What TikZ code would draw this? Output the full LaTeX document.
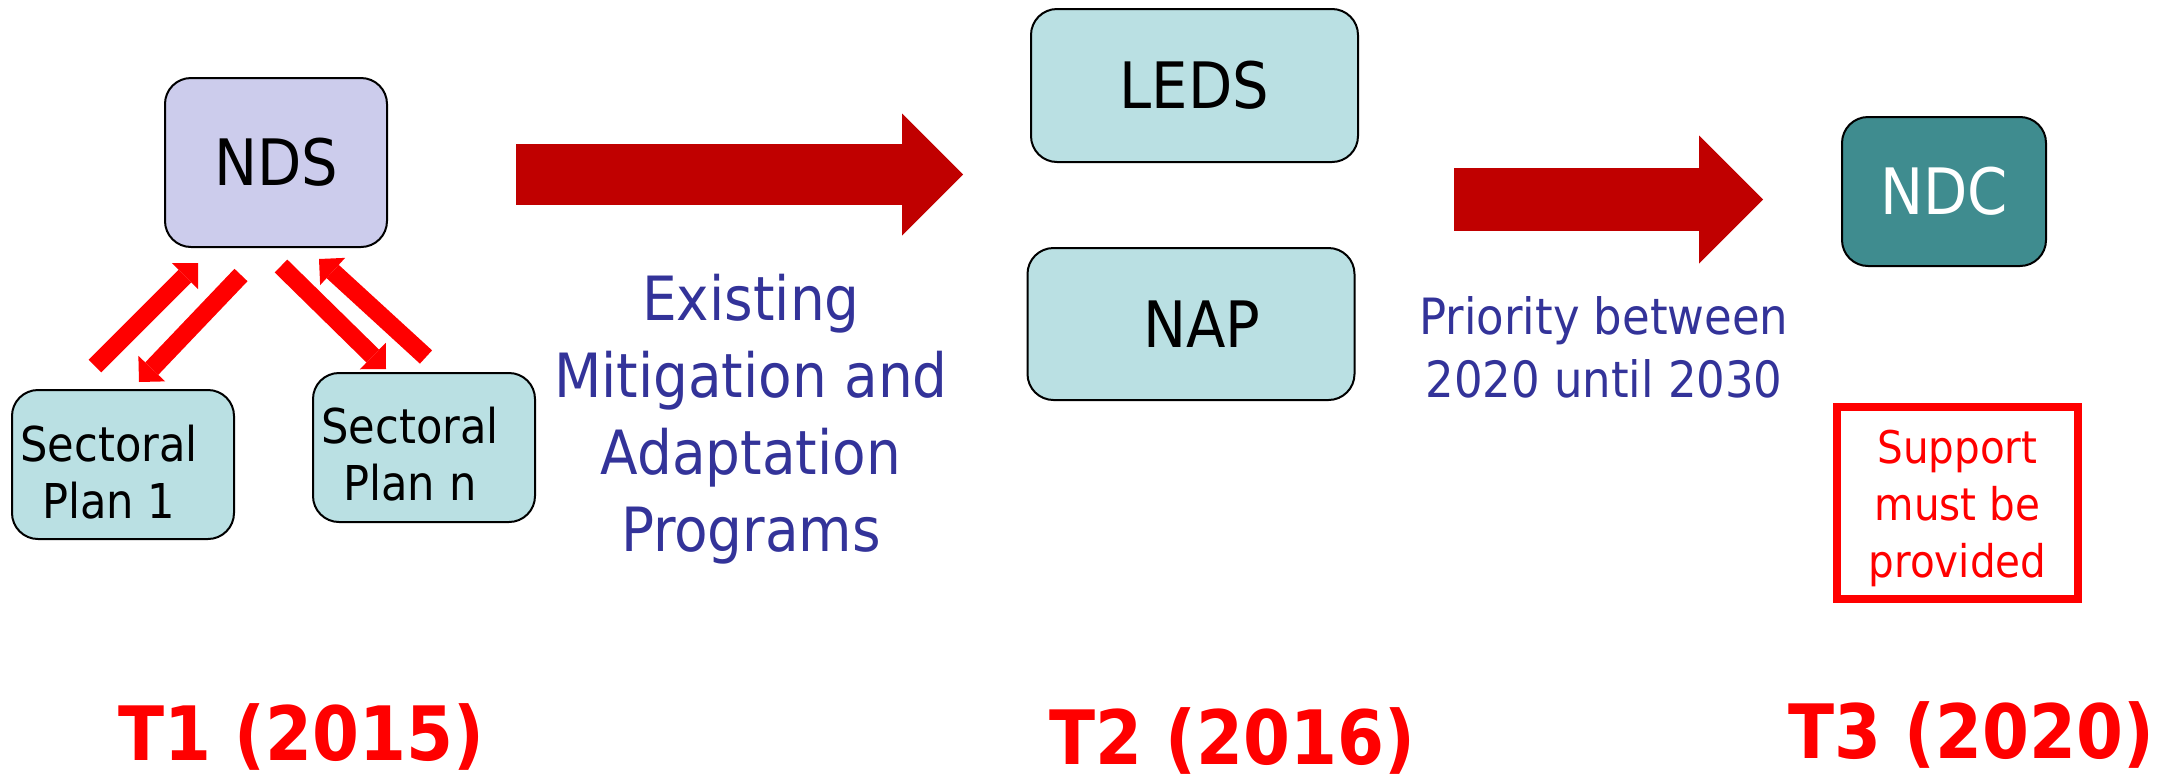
\documentclass[tikz,border=0pt]{standalone}
\usepackage{fontspec}
\setmainfont{DejaVu Sans Condensed}[BoldFont={DejaVu Sans Condensed Bold}]
\usetikzlibrary{arrows.meta}
\definecolor{lav}{RGB}{204,204,236}
\definecolor{lteal}{RGB}{186,224,227}
\definecolor{dteal}{RGB}{63,140,143}
\definecolor{dred}{RGB}{192,0,0}
\definecolor{bred}{RGB}{255,0,0}
\definecolor{tblue}{RGB}{51,51,153}
\newcommand\setfs[2]{\fontsize{#1}{#2}\selectfont}
\begin{document}
\begin{tikzpicture}[x=1pt,y=-1pt,
  box/.style={draw=black, line width=2pt, rounded corners=26pt, inner sep=0pt},
  boxtxt/.style={font=\setfs{64}{70}},
  plantxt/.style={font=\setfs{48}{57}, align=center, text=black},
  bluetxt/.style={text=tblue, align=center},
  tlab/.style={text=bred, font=\setfs{75}{80}\bfseries, anchor=base},
  smallarr/.style={draw=bred, line width=18pt,
    -{Triangle[width=37pt 0 0, length=18.5pt 0 0, line width=0pt 0 0]}},
  bigarrA/.style={draw=dred, line width=61pt,
    -{Triangle[width=122pt 0 0, length=61pt 0 0, line width=0pt 0 0]}},
  bigarrB/.style={draw=dred, line width=63pt,
    -{Triangle[width=128pt 0 0, length=64pt 0 0, line width=0pt 0 0]}}
]
\useasboundingbox (0,0) rectangle (2167,777);

% boxes
\node[box, fill=lav, minimum width=222pt, minimum height=169pt, boxtxt] (nds) at (276,162.5) {NDS};
\node[box, fill=lteal, minimum width=222pt, minimum height=149pt,
  label={[plantxt, xshift=-14pt, yshift=-7.5pt]center:{Sectoral\\Plan 1}}] (plan1) at (123,464.5) {};
\node[box, fill=lteal, minimum width=222pt, minimum height=149pt,
  label={[plantxt, xshift=-14pt, yshift=-7pt]center:{Sectoral\\Plan n}}] (plann) at (424,447.5) {};
\node[box, fill=lteal, minimum width=327pt, minimum height=153pt, boxtxt] (leds) at (1194.5,85.5) {LEDS};
\node[box, fill=lteal, minimum width=327pt, minimum height=152pt, boxtxt] (nap) at (1191,324) {\hspace*{22pt}NAP};
\node[box, fill=dteal, minimum width=204pt, minimum height=149pt, boxtxt, text=white] (ndc) at (1944,191.5) {NDC};
\node[draw=bred, line width=8pt, minimum width=241pt, minimum height=192pt, inner sep=0pt,
  label={[font=\setfs{45}{57}, text=bred, align=center, yshift=-5.5pt]center:{Support\\must be\\provided}}] (sup) at (1957.5,503) {};

% small red arrows
\coordinate (a1s) at (95,366);  \coordinate (a1e) at (198,263);
\coordinate (a2s) at (241,275); \coordinate (a2e) at (139,382);
\coordinate (a3s) at (281,266); \coordinate (a3e) at (386,369);
\coordinate (a4s) at (426,357); \coordinate (a4e) at (319,259);
\draw[smallarr] (a1s) -- (a1e);
\draw[smallarr] (a2s) -- (a2e);
\draw[smallarr] (a3s) -- (a3e);
\draw[smallarr] (a4s) -- (a4e);

% big arrows
\coordinate (b1s) at (516,174.5);  \coordinate (b1e) at (963,174.5);
\coordinate (b2s) at (1454,199.5); \coordinate (b2e) at (1763,199.5);
\draw[bigarrA] (b1s) -- (b1e);
\draw[bigarrB] (b2s) -- (b2e);

% texts
\node[bluetxt, font=\setfs{61}{77}] (emap) at (751,419.5) {Existing\\Mitigation and\\Adaptation\\Programs};
\node[bluetxt, font=\setfs{50}{63}] (prio) at (1604,347) {Priority between\\2020 until 2030};

\node[tlab] (t1) at (301.5,760) {T1 (2015)};
\node[tlab] (t2) at (1232.5,764) {T2 (2016)};
\node[tlab] (t3) at (1971,758) {T3 (2020)};
\end{tikzpicture}
\end{document}
